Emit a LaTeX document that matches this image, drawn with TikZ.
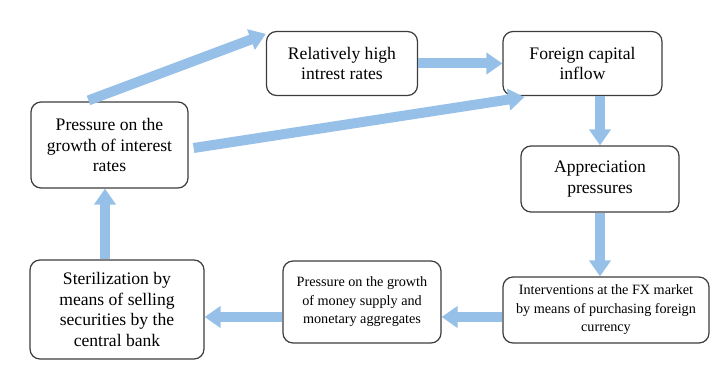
\documentclass[tikz,border=0pt]{standalone}
\usepackage{fontspec}
\setmainfont{Liberation Serif}
\usetikzlibrary{arrows.meta, positioning, calc}
\definecolor{biruPanah}{RGB}{150,192,232}
\definecolor{garisKotak}{RGB}{60,60,60}

\begin{document}
\begin{tikzpicture}[
  x=0.5pt, y=-0.5pt,
  kotak/.style={draw=garisKotak, line width=0.6pt, rounded corners=5pt, align=center,
    font=\fontsize{8.8}{10.4}\selectfont, inner sep=2pt},
  kotakKecil/.style={kotak, font=\fontsize{7.1}{9.2}\selectfont},
  panah/.style={-{Triangle[width=10.5pt, length=8pt]}, line width=5pt, biruPanah}
]
  \useasboundingbox (0,0) rectangle (728,385);

  \node[kotak, minimum width=75.5pt, minimum height=32pt] (rel) at (342,63.5) {Relatively high\\intrest rates};
  \node[kotak, minimum width=79.5pt, minimum height=32pt] (fci) at (582.5,63.5) {Foreign capital\\inflow};
  \node[kotak, minimum width=78.5pt, minimum height=43pt] (pgi) at (109.5,145) {Pressure on the\\growth of interest\\rates};
  \node[kotak, minimum width=79pt, minimum height=33pt] (app) at (600,179) {Appreciation\\pressures};
  \node[kotak, minimum width=87pt, minimum height=49.5pt] (ster) at (117,309.5) {Sterilization by\\means of selling\\securities by the\\central bank};
  \node[kotakKecil, minimum width=79pt, minimum height=41pt] (mon) at (362,302) {Pressure on the growth\\of money supply and\\monetary aggregates};
  \node[kotakKecil, minimum width=103pt, minimum height=33pt] (fx) at (606,310) {Interventions at the FX market\\by means of purchasing foreign\\currency};

  \draw[panah] ($(pgi.north)+(-21,-1)$) -- ($(rel.north west)+(0,3)$);
  \draw[panah] ($(pgi.east)+(5,3)$) -- ($(fci.south west)+(22,1)$);
  \draw[panah] (rel.east) -- (fci.west);
  \draw[panah] (fci.south -| app.north) -- (app.north);
  \draw[panah] (app.south) -- (app.south |- fx.north);
  \draw[panah] ($(fx.west)+(0,7)$) -- ($(fx.west -| mon.east)+(0,7)$);
  \draw[panah] ($(mon.west)+(0,15)$) -- ($(mon.west -| ster.east)+(0,15)$);
  \draw[panah] ($(ster.north)+(-12,0)$) -- ($(ster.north |- pgi.south)+(-12,0)$);
\end{tikzpicture}
\end{document}
